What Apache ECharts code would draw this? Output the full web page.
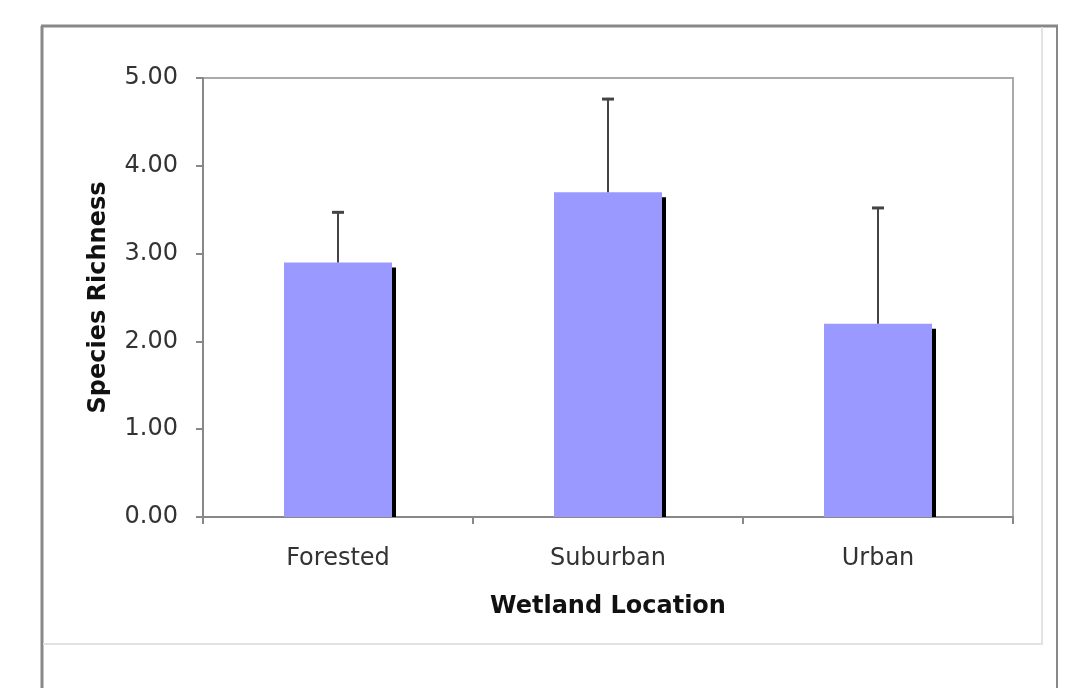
<!DOCTYPE html>
<html>
<head>
<meta charset="utf-8">
<script src="https://cdn.jsdelivr.net/npm/echarts@6/dist/echarts.min.js"></script>
<style>
html,body{margin:0;padding:0;background:#fff;}
#chart{width:1081px;height:688px;}
</style>
</head>
<body>
<div id="chart"></div>
<script>
const categories = ['Forested', 'Suburban', 'Urban'];
const means = [2.90, 3.70, 2.20];
const errorUpper = [3.47, 4.76, 3.52];
const yTicks = [0, 1, 2, 3, 4, 5];

const chart = echarts.init(document.getElementById('chart'));
const FONT = '"DejaVu Sans", Verdana, sans-serif';

const data = categories.map((c, i) => [i, means[i], errorUpper[i]]);

chart.setOption({
  animation: false,
  backgroundColor: '#fff',
  graphic: [
    { type: 'line', shape: { x1: 42, y1: 26, x2: 42, y2: 700 }, style: { stroke: '#888', lineWidth: 3 } },
    { type: 'line', shape: { x1: 41, y1: 26, x2: 1058, y2: 26 }, style: { stroke: '#888', lineWidth: 3 } },
    { type: 'line', shape: { x1: 1057, y1: 26, x2: 1057, y2: 700 }, style: { stroke: '#888', lineWidth: 2 } },
    { type: 'line', shape: { x1: 1042, y1: 27, x2: 1042, y2: 644 }, style: { stroke: '#e2e2e2', lineWidth: 2 } },
    { type: 'line', shape: { x1: 43, y1: 644, x2: 1043, y2: 644 }, style: { stroke: '#e2e2e2', lineWidth: 2 } }
  ],
  grid: {
    left: 203, top: 78, right: 68, bottom: 171,
    show: true, borderColor: '#aaa', borderWidth: 2, backgroundColor: '#fff'
  },
  xAxis: {
    type: 'category',
    data: categories,
    name: 'Wetland Location',
    nameLocation: 'middle',
    nameGap: 78,
    nameTextStyle: { fontFamily: FONT, fontSize: 24, fontWeight: 'bold', color: '#111' },
    axisLine: { lineStyle: { color: '#888', width: 2 } },
    axisTick: { show: true, length: 7, lineStyle: { color: '#888', width: 2 } },
    axisLabel: { fontFamily: FONT, fontSize: 24, color: '#333', margin: 30 },
    splitLine: { show: false }
  },
  yAxis: {
    type: 'value',
    min: 0, max: 5, interval: 1,
    name: 'Species Richness',
    nameLocation: 'middle',
    nameGap: 92,
    nameTextStyle: { fontFamily: FONT, fontSize: 24, fontWeight: 'bold', color: '#111' },
    axisLine: { show: true, lineStyle: { color: '#888', width: 2 } },
    axisTick: { show: true, length: 7, lineStyle: { color: '#888', width: 2 } },
    axisLabel: { fontFamily: FONT, fontSize: 24, color: '#333', margin: 25,
      formatter: v => yTicks.includes(v) ? v.toFixed(2) : '' },
    splitLine: { show: false }
  },
  series: [{
    type: 'custom',
    data: data,
    encode: { x: 0, y: 1 },
    clip: false,
    renderItem: function (params, api) {
      const i = api.value(0);
      const m = api.value(1);
      const up = api.value(2);
      const base = api.coord([i, 0]);
      const top = api.coord([i, m]);
      const eTop = api.coord([i, up]);
      const bw = api.size([1, 0])[0] * 0.4;
      const x0 = base[0] - bw / 2;
      const h = base[1] - top[1];
      const cap = 12;
      return {
        type: 'group',
        children: [
          { type: 'rect', shape: { x: x0 + 4, y: top[1] + 5, width: bw, height: h - 5 }, style: { fill: '#000' } },
          { type: 'rect', shape: { x: x0, y: top[1], width: bw, height: h }, style: { fill: '#9999FF' } },
          { type: 'line', shape: { x1: top[0], y1: top[1], x2: top[0], y2: eTop[1] }, style: { stroke: '#444', lineWidth: 2 } },
          { type: 'line', shape: { x1: top[0] - cap / 2, y1: eTop[1], x2: top[0] + cap / 2, y2: eTop[1] }, style: { stroke: '#444', lineWidth: 3 } }
        ]
      };
    }
  }]
});
</script>
</body>
</html>
